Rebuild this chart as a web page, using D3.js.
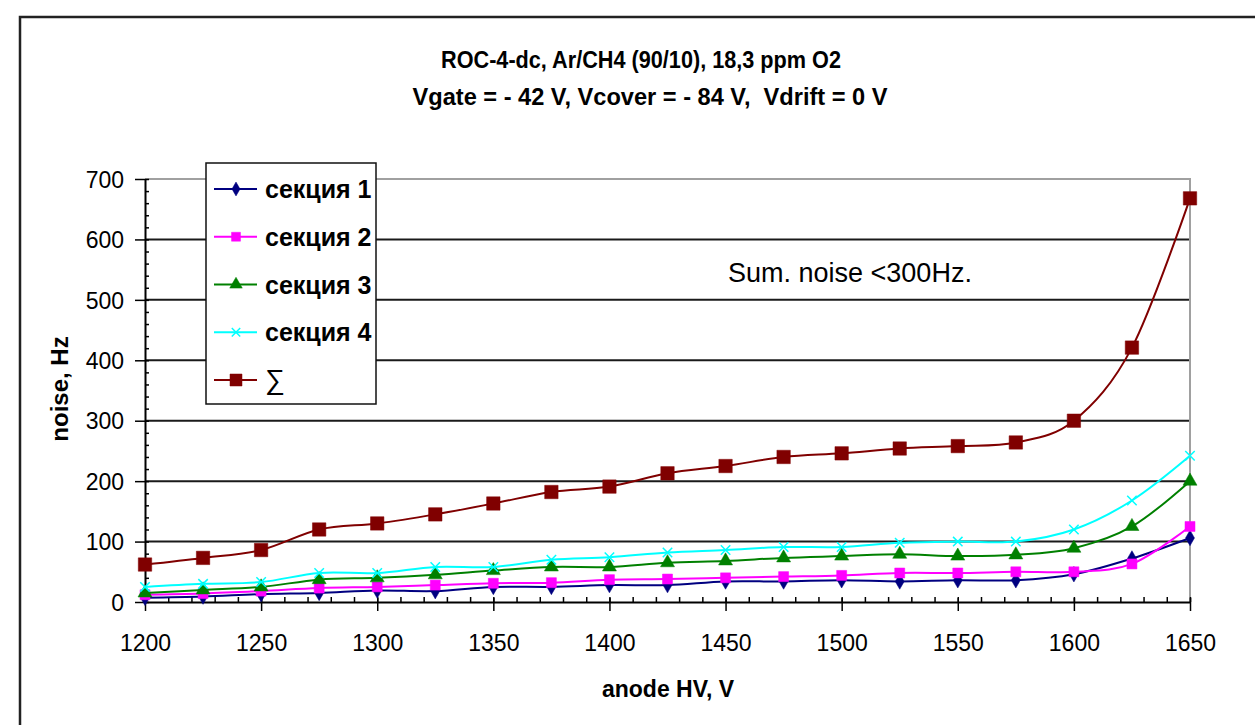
<!DOCTYPE html>
<html lang="ru">
<head>
<meta charset="UTF-8">
<title>ROC-4-dc noise</title>
<script src="https://d3js.org/d3.v7.min.js"></script>
<style>
  body { margin: 0; background: #fff; }
  text { font-family: "Liberation Sans", Arial, sans-serif; fill: #000; }
</style>
</head>
<body>
<svg id="chart" width="1255" height="725"></svg>
<script>
// anode HV, V
const hv = [1200, 1225, 1250, 1275, 1300, 1325, 1350, 1375, 1400, 1425,
            1450, 1475, 1500, 1525, 1550, 1575, 1600, 1625, 1650];
// noise, Hz per section
const sec1 = [7, 9, 13, 15, 19, 18, 25, 25, 28, 28, 34, 34, 36, 34, 36, 36, 46, 72, 106];
const sec2 = [12, 14, 18, 23, 25, 28, 31, 32, 37, 38, 40, 42, 44, 48, 48, 50, 50, 63, 125];
const sec3 = [15, 20, 25, 37, 40, 45, 52, 58, 58, 65, 68, 73, 76, 79, 76, 78, 89, 125, 200];
const sec4 = [25, 30, 33, 48, 48, 58, 58, 70, 74, 82, 86, 91, 91, 98, 100, 100, 120, 168, 242];
const total = [62, 73, 86, 120, 130, 145, 163, 182, 191, 213, 225, 240, 246, 254, 258, 264, 300, 421, 668];

const seriesNames = ["секция 1", "секция 2", "секция 3", "секция 4", "∑"];
const xTicks = [1200, 1250, 1300, 1350, 1400, 1450, 1500, 1550, 1600, 1650];
const yTicks = [0, 100, 200, 300, 400, 500, 600, 700];

const series = [
  {name: seriesNames[0], values: sec1, color: "#000080", symbol: d3.symbolDiamond, size: 70},
  {name: seriesNames[1], values: sec2, color: "#ff00ff", symbol: d3.symbolSquare, size: 100},
  {name: seriesNames[2], values: sec3, color: "#008000", symbol: d3.symbolTriangle, size: 85},
  {name: seriesNames[3], values: sec4, color: "#00ffff", symbol: d3.symbolX, size: 60},
  {name: seriesNames[4], values: total, color: "#800000", symbol: d3.symbolSquare, size: 180}
];

const svg = d3.select("#chart");

// outer frame
svg.append("rect")
  .attr("x", 20).attr("y", 17).attr("width", 1300).attr("height", 800)
  .attr("fill", "none").attr("stroke", "#222").attr("stroke-width", 2.5);

const x = d3.scaleLinear().domain([1200, 1650]).range([145, 1190]);
const y = d3.scaleLinear().domain([0, 700]).range([602, 179]);

// title
const title = svg.append("g").style("font-weight", "bold").style("font-size", "23px");
title.append("text").attr("x", 641).attr("y", 68).attr("text-anchor", "middle")
  .attr("textLength", 400).attr("lengthAdjust", "spacingAndGlyphs")
  .text("ROC-4-dc, Ar/CH4 (90/10), 18,3 ppm O2");
title.append("text").attr("x", 650).attr("y", 105).attr("text-anchor", "middle")
  .attr("xml:space", "preserve")
  .attr("textLength", 475).attr("lengthAdjust", "spacingAndGlyphs")
  .text("Vgate = - 42 V, Vcover = - 84 V,  Vdrift = 0 V");

// grid lines
svg.append("g")
  .selectAll("line")
  .data(yTicks.filter(v => v > 0 && v < 700))
  .join("line")
    .attr("x1", x(1200)).attr("x2", x(1650))
    .attr("y1", d => y(d)).attr("y2", d => y(d))
    .attr("stroke", "#1a1a1a").attr("stroke-width", 2);

// plot border top/right (grey)
svg.append("path")
  .attr("d", `M${x(1200)},${y(700)}H${x(1650)}V${y(0)}`)
  .attr("fill", "none").attr("stroke", "#a0a0a0").attr("stroke-width", 2);

// minor ticks
svg.append("g").attr("transform", `translate(${x(1200)},0)`)
  .call(d3.axisRight(y).tickValues(d3.range(0, 701, 20)).tickSize(4).tickFormat(""))
  .call(g => g.select(".domain").remove())
  .selectAll("line").attr("stroke-width", 1.5);
svg.append("g").attr("transform", `translate(0,${y(0)})`)
  .call(d3.axisTop(x).tickValues(d3.range(1200, 1651, 10)).tickSize(5).tickFormat(""))
  .call(g => g.select(".domain").remove())
  .selectAll("line").attr("stroke-width", 1.5);

// y axis
const yAxis = svg.append("g").attr("transform", `translate(${x(1200)},0)`)
  .call(d3.axisLeft(y).tickValues(yTicks).tickSize(10).tickSizeOuter(0).tickPadding(11)
    .tickFormat(d3.format("d")));
yAxis.select(".domain").attr("stroke-width", 2);
yAxis.selectAll(".tick line").attr("stroke-width", 1.5);
yAxis.selectAll("text").style("font-size", "23px").style("font-family", "Liberation Sans, Arial, sans-serif")
  .attr("dy", "0.36em");

// x axis
const xAxis = svg.append("g").attr("transform", `translate(0,${y(0)})`)
  .call(d3.axisBottom(x).tickValues(xTicks).tickSize(9).tickSizeOuter(0).tickPadding(24)
    .tickFormat(d3.format("d")));
xAxis.select(".domain").attr("stroke-width", 2);
xAxis.selectAll(".tick line").attr("stroke-width", 1.5).attr("y1", -4);
xAxis.selectAll("text").style("font-size", "23px").style("font-family", "Liberation Sans, Arial, sans-serif")
  .attr("dy", "0.71em");

// axis titles
svg.append("text")
  .attr("transform", "translate(68,389) rotate(-90)")
  .attr("text-anchor", "middle")
  .style("font-size", "24px").style("font-weight", "bold")
  .text("noise, Hz");
svg.append("text")
  .attr("x", 668).attr("y", 697).attr("text-anchor", "middle")
  .style("font-size", "23px").style("font-weight", "bold")
  .text("anode HV, V");

// annotation
svg.append("text")
  .attr("x", 728).attr("y", 282)
  .style("font-size", "27px")
  .text("Sum. noise <300Hz.");

// lines
const line = d3.line()
  .x((d, i) => x(hv[i]))
  .y(d => y(d))
  .curve(d3.curveCardinal.tension(0));

const sg = svg.append("g").selectAll("g").data(series).join("g");
sg.append("path")
  .attr("d", d => line(d.values))
  .attr("fill", "none")
  .attr("stroke", d => d.color)
  .attr("stroke-width", 2);
sg.each(function(s) {
  const sym = d3.symbol().type(s.symbol).size(s.size);
  d3.select(this).selectAll(".pt")
    .data(s.values)
    .join("path")
      .attr("class", "pt")
      .attr("transform", (d, i) => `translate(${x(hv[i])},${y(d)})`)
      .attr("d", sym)
      .attr("fill", s.color)
      .attr("stroke", s.color)
      .attr("stroke-width", s.symbol === d3.symbolX ? 1.5 : 0.5);
});

// legend
const legend = svg.append("g");
legend.append("rect")
  .attr("x", 206).attr("y", 163).attr("width", 170).attr("height", 241)
  .attr("fill", "#fff").attr("stroke", "#111").attr("stroke-width", 1.5);
const ly = d3.scalePoint().domain(seriesNames).range([189, 380]);
const li = legend.selectAll(".item").data(series).join("g")
  .attr("class", "item")
  .attr("transform", d => `translate(0,${ly(d.name)})`);
li.append("line")
  .attr("x1", 214).attr("x2", 257)
  .attr("stroke", d => d.color).attr("stroke-width", 2);
li.append("path")
  .attr("transform", "translate(236,0)")
  .attr("d", d => d3.symbol().type(d.symbol).size(d.size * 0.8)())
  .attr("fill", d => d.color).attr("stroke", d => d.color)
  .attr("stroke-width", d => d.symbol === d3.symbolX ? 1.5 : 0.5);
li.append("text")
  .attr("x", 265).attr("y", 9)
  .style("font-size", d => d.name === "∑" ? "28px" : "25px")
  .style("font-weight", d => d.name === "∑" ? "normal" : "bold")
  .text(d => d.name);
</script>
</body>
</html>
